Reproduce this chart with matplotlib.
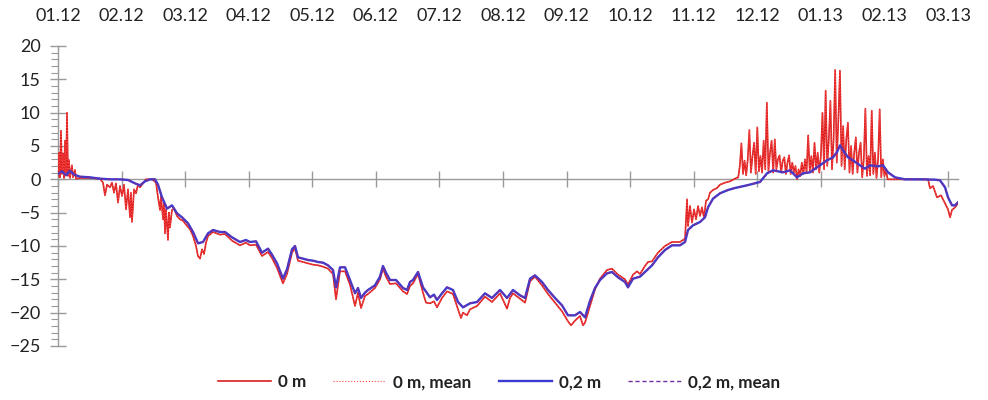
import matplotlib
matplotlib.use('Agg')
import matplotlib.pyplot as plt
from matplotlib.ticker import MultipleLocator, FixedLocator

plt.rcParams['font.family'] = ['Lato', 'DejaVu Sans']

# ---- data (time in months since 01.12) ----
months = ['01.12', '02.12', '03.12', '04.12', '05.12', '06.12', '07.12', '08.12',
          '09.12', '10.12', '11.12', '12.12', '01.13', '02.13', '03.13']
month_pos = list(range(len(months)))

blue_t = [0.000, 0.063, 0.126, 0.189, 0.252, 0.346, 0.503, 0.661, 0.818, 0.975,
          1.101, 1.211, 1.290, 1.369, 1.447, 1.526, 1.573, 1.636, 1.715, 1.793,
          1.872, 1.951, 2.045, 2.124, 2.203, 2.281, 2.360, 2.438, 2.548, 2.627,
          2.737, 2.863, 2.957, 3.020, 3.115, 3.209, 3.303, 3.366, 3.445, 3.539,
          3.602, 3.681, 3.728, 3.775, 3.854, 3.932, 4.011, 4.090, 4.168, 4.247,
          4.326, 4.373, 4.436, 4.515, 4.593, 4.672, 4.719, 4.766, 4.829, 4.876,
          4.986, 5.065, 5.112, 5.159, 5.222, 5.317, 5.427, 5.490, 5.537, 5.584,
          5.663, 5.741, 5.852, 5.914, 5.962, 6.040, 6.119, 6.213, 6.292, 6.371,
          6.481, 6.591, 6.717, 6.827, 6.953, 7.063, 7.157, 7.267, 7.346, 7.425,
          7.503, 7.613, 7.708, 7.818, 7.928, 8.022, 8.132, 8.211, 8.290, 8.369,
          8.447, 8.526, 8.636, 8.714, 8.809, 8.919, 8.966, 9.045, 9.155, 9.233,
          9.344, 9.438, 9.548, 9.658, 9.784, 9.863, 9.910, 9.989, 10.099, 10.177,
          10.225, 10.303, 10.413, 10.539, 10.649, 10.838, 11.042, 11.153, 11.247, 11.404,
          11.514, 11.624, 11.719, 11.829, 11.908, 11.986, 12.096, 12.191, 12.254, 12.301,
          12.348, 12.427, 12.505, 12.615, 12.694, 12.773, 12.899, 12.977, 13.056, 13.166,
          13.323, 13.559, 13.795, 13.874, 13.953, 14.000, 14.063, 14.110, 14.157]
blue_v = [0.8, 1.2, 0.6, 1.3, 0.7, 0.4, 0.3, 0.1, 0.0, 0.0,
          -0.1, -0.6, -0.9, -0.3, 0.0, 0.0, -0.8, -2.7, -4.4, -3.9,
          -5.1, -5.7, -6.6, -7.9, -9.6, -9.4, -8.1, -7.6, -7.9, -7.9,
          -8.7, -9.4, -9.1, -9.4, -9.3, -11.0, -10.4, -11.3, -12.6, -14.9,
          -13.5, -10.5, -10.0, -11.7, -11.9, -12.1, -12.2, -12.4, -12.5, -12.9,
          -13.6, -16.2, -13.2, -13.2, -15.1, -17.1, -16.3, -17.8, -17.0, -16.6,
          -15.9, -14.6, -13.0, -14.0, -15.1, -15.1, -16.3, -16.6, -15.4, -15.1,
          -13.9, -16.2, -17.7, -17.3, -18.1, -17.1, -16.2, -16.6, -18.4, -19.2,
          -18.6, -18.4, -17.1, -17.8, -16.6, -17.8, -16.6, -17.4, -17.8, -14.9,
          -14.4, -15.4, -16.6, -17.8, -18.9, -20.4, -20.4, -19.9, -20.7, -18.2,
          -16.3, -15.1, -14.1, -13.9, -14.7, -15.4, -16.2, -14.9, -14.6, -13.9,
          -12.9, -11.7, -10.6, -9.9, -9.9, -9.4, -7.6, -6.9, -6.4, -5.7,
          -4.2, -2.9, -2.1, -1.6, -1.3, -0.9, -0.4, 0.9, 1.35, 1.05,
          1.35, 0.3, 0.9, 1.05, 1.6, 2.1, 2.85, 3.3, 4.1, 5.1,
          4.35, 3.3, 2.85, 2.1, 1.6, 2.1, 1.95, 2.1, 1.05, 0.3,
          0.0, 0.0, -0.05, -0.15, -1.2, -2.7, -3.9, -3.9, -3.45]
blue_mean_v = blue_v

red_t = [0.000, 0.016, 0.031, 0.047, 0.063, 0.079, 0.094, 0.110, 0.126, 0.142,
         0.157, 0.173, 0.189, 0.220, 0.236, 0.267, 0.283, 0.346, 0.503, 0.661,
         0.708, 0.739, 0.771, 0.818, 0.849, 0.881, 0.912, 0.944, 0.975, 1.007,
         1.038, 1.070, 1.101, 1.133, 1.148, 1.164, 1.196, 1.227, 1.258, 1.290,
         1.337, 1.384, 1.479, 1.542, 1.573, 1.605, 1.620, 1.652, 1.668, 1.683,
         1.699, 1.730, 1.746, 1.762, 1.793, 1.825, 1.872, 1.919, 1.966, 2.014,
         2.077, 2.124, 2.171, 2.202, 2.234, 2.265, 2.297, 2.328, 2.360, 2.438,
         2.548, 2.627, 2.737, 2.863, 2.957, 3.020, 3.115, 3.209, 3.303, 3.366,
         3.445, 3.539, 3.602, 3.681, 3.728, 3.775, 3.854, 3.932, 4.011, 4.090,
         4.168, 4.247, 4.326, 4.373, 4.436, 4.515, 4.593, 4.672, 4.719, 4.766,
         4.829, 4.876, 4.986, 5.065, 5.112, 5.159, 5.222, 5.317, 5.427, 5.490,
         5.537, 5.584, 5.663, 5.741, 5.789, 5.852, 5.914, 5.962, 6.040, 6.119,
         6.213, 6.292, 6.339, 6.371, 6.434, 6.481, 6.591, 6.717, 6.827, 6.953,
         7.016, 7.063, 7.110, 7.157, 7.267, 7.346, 7.425, 7.503, 7.613, 7.708,
         7.818, 7.928, 8.022, 8.070, 8.132, 8.211, 8.258, 8.290, 8.369, 8.447,
         8.526, 8.636, 8.714, 8.809, 8.919, 8.966, 9.045, 9.108, 9.155, 9.233,
         9.281, 9.344, 9.438, 9.548, 9.658, 9.784, 9.863, 9.895, 9.910, 9.942,
         9.973, 10.005, 10.036, 10.068, 10.099, 10.130, 10.162, 10.193, 10.225, 10.256,
         10.303, 10.366, 10.413, 10.492, 10.571, 10.649,
         10.700, 10.725, 10.750, 10.775, 10.800, 10.825, 10.850, 10.875, 10.900, 10.925,
         10.950, 10.975, 11.000, 11.025, 11.050, 11.075, 11.100, 11.125, 11.150, 11.175,
         11.200, 11.225, 11.250, 11.275, 11.300, 11.325, 11.350, 11.375, 11.400, 11.425,
         11.450, 11.475, 11.500, 11.525, 11.550, 11.575, 11.600, 11.625, 11.650, 11.675,
         11.700, 11.725, 11.750, 11.775, 11.800, 11.825, 11.850, 11.875, 11.900, 11.925,
         11.950, 11.975, 12.000, 12.025, 12.050, 12.075, 12.100, 12.125, 12.150, 12.175,
         12.200, 12.225, 12.250, 12.275, 12.300, 12.325, 12.350, 12.375, 12.400, 12.425,
         12.450, 12.475, 12.500, 12.525, 12.550, 12.575, 12.600, 12.625, 12.650, 12.675,
         12.700, 12.725, 12.750, 12.775, 12.800, 12.825, 12.850, 12.875, 12.900, 12.925,
         12.950, 12.975, 13.000, 13.025, 13.050,
         13.245, 13.686, 13.717, 13.764, 13.827, 13.890,
         13.953, 14.000, 14.032, 14.063, 14.110, 14.157]
red_v = [0.5, 4.0, 0.3, 7.3, 0.8, 3.9, 0.2, 5.8, 1.0, 10.0,
         0.5, 2.9, 0.2, 2.1, 0.3, 1.4, 0.1, 0.2, 0.2, 0.1,
         -0.5, -2.4, -0.8, -1.2, -0.5, -2.0, -0.6, -3.5, -1.0, -2.5,
         -0.8, -4.5, -1.5, -5.7, -2.0, -6.4, -1.5, -2.1, -0.8, -1.2,
         -0.6, 0.0, 0.0, -0.5, -2.7, -4.6, -2.5, -6.0, -3.5, -8.1,
         -4.5, -9.1, -5.0, -7.2, -4.6, -4.4, -5.5, -6.0, -6.2, -6.8,
         -7.5, -8.5, -10.0, -11.5, -11.9, -10.5, -11.2, -9.5, -8.5, -7.9,
         -8.3, -8.2, -9.2, -9.9, -9.5, -9.9, -9.8, -11.5, -10.9, -11.8,
         -13.3, -15.6, -14.2, -11.0, -10.3, -12.2, -12.4, -12.6, -12.8, -12.9,
         -13.1, -13.4, -14.2, -18.0, -13.8, -13.8, -15.8, -19.0, -17.0, -19.3,
         -17.5, -17.2, -16.3, -15.0, -13.4, -14.6, -15.7, -15.6, -16.8, -17.2,
         -16.0, -15.6, -14.2, -17.0, -18.5, -18.6, -18.3, -19.2, -17.8, -16.8,
         -17.2, -19.5, -20.8, -20.0, -20.4, -19.5, -19.0, -17.6, -18.4, -17.1,
         -18.4, -19.4, -17.8, -17.1, -17.9, -18.5, -15.3, -14.6, -15.9, -17.2,
         -18.5, -19.8, -21.3, -21.9, -21.2, -20.5, -21.9, -21.5, -19.0, -16.5,
         -14.9, -13.6, -13.4, -14.3, -15.0, -15.8, -14.3, -13.8, -14.2, -13.0,
         -12.4, -12.3, -11.0, -10.0, -9.4, -9.4, -8.9, -3.0, -7.0, -4.0,
         -6.5, -4.5, -6.0, -4.0, -5.5, -4.2, -5.8, -3.2, -3.0, -2.0,
         -1.6, -1.3, -0.8, -0.5, -0.3, 0.1,
         0.3, 2.0, 5.4, 0.8, 2.8, 0.6, 3.0, 7.4, 1.0, 3.5,
         5.5, 0.8, 7.8, 1.2, 3.5, 1.0, 5.8, 1.5, 11.5, 1.2,
         4.0, 5.8, 1.0, 6.0, 1.5, 3.0, 3.6, 1.0, 2.8, 3.3,
         0.8, 2.5, 3.6, 0.8, 2.5, 1.0, 2.0, 0.0, 1.5, 0.5,
         2.5, 0.8, 3.0, 1.0, 6.6, 1.2, 3.5, 1.0, 5.5, 1.5,
         4.0, 1.0, 3.5, 10.0, 1.5, 13.3, 2.0, 6.0, 11.8, 1.5,
         6.0, 16.4, 2.5, 9.0, 16.3, 2.0, 8.0, 1.5, 6.0, 8.5,
         1.0, 5.0, 0.8, 4.0, 6.3, 1.0, 4.0, 5.5, 0.3, 3.0,
         10.6, 0.5, 3.5, 0.6, 10.3, 0.8, 4.0, 0.2, 3.0, 10.5,
         0.3, 3.0, 0.5, 1.5, 0.0,
         0.0, 0.0, -1.35, -1.0, -2.7, -2.4,
         -3.6, -4.5, -5.7, -4.6, -4.2, -3.6]
red_mean_v = red_v

# ---- figure ----
W, H = 988, 400
fig = plt.figure(figsize=(W / 100, H / 100), dpi=100)
ax = fig.add_axes([58 / W, 54 / H, (958 - 58) / W, 300 / H])
ax.set_xlim(0, 14.157)
ax.set_ylim(-25, 20)

red = '#D91E1E'
ax.plot(red_t, red_v, color=red, lw=1.2, label='0 m', zorder=3)
ax.plot(red_t, red_mean_v, color='#FF4A4A', lw=0.8, ls=':', label='0 m, mean', zorder=3)
ax.plot(blue_t, blue_v, color='#3B3BD2', lw=1.7, label='0,2 m', zorder=4)
ax.plot(blue_t, blue_mean_v, color='#7030A0', lw=1.0, ls='--', dashes=(3, 2),
        label='0,2 m, mean', zorder=5)

grey = '#9A9A9A'
for s in ['top', 'right']:
    ax.spines[s].set_visible(False)
ax.spines['left'].set_color(grey)
ax.spines['bottom'].set_color(grey)
ax.spines['bottom'].set_position(('data', 0))
ax.spines['left'].set_linewidth(1.0)
ax.spines['bottom'].set_linewidth(1.0)

ax.xaxis.set_major_locator(FixedLocator(month_pos))
ax.tick_params(axis='x', which='major', direction='inout', length=11, width=1,
               color=grey, labelbottom=False)

ax.yaxis.set_major_locator(MultipleLocator(5))
ax.yaxis.set_minor_locator(MultipleLocator(1))
ax.tick_params(axis='y', which='major', direction='inout', length=11, width=1,
               color=grey, labelsize=13, pad=7, labelcolor='#222222')
ax.tick_params(axis='y', which='minor', direction='out', length=5, width=0.8, color=grey)

sec = ax.secondary_xaxis('top')
sec.set_xticks(month_pos)
sec.set_xticklabels(months)
sec.spines['top'].set_visible(False)
sec.tick_params(axis='x', length=0, labelsize=13, pad=16, labelcolor='#222222')

leg = fig.legend(loc='lower center', bbox_to_anchor=(0.505, -0.014), ncol=4,
                 frameon=False, handlelength=3.1, columnspacing=1.6,
                 handletextpad=0.4, prop={'family': ['Lato', 'DejaVu Sans'],
                                          'weight': 'bold', 'size': 12.3})
for t in leg.get_texts():
    t.set_color('#222222')

fig.savefig('out.png', dpi=100)
